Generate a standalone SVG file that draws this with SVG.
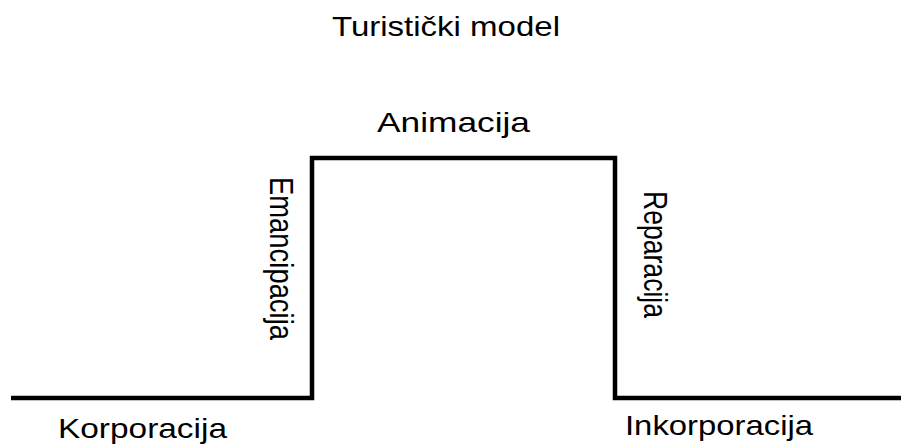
<svg xmlns="http://www.w3.org/2000/svg" width="901" height="445" viewBox="0 0 901 445">
<style>
text{font-family:"Liberation Sans",Arial,Helvetica,sans-serif;font-size:28px;fill:#000}
.ln{fill:none;stroke:#000;stroke-width:4.5;stroke-linejoin:miter;stroke-linecap:butt}
</style>
<rect width="901" height="445" fill="#fff"/>
<g id="connectors">
<polyline class="ln" points="11,398 312,398 312,158 615,158 615,398 901,398"/>
</g>
<g id="title"><text x="332" y="36" textLength="228" lengthAdjust="spacingAndGlyphs">Turistički model</text></g>
<g id="animacija"><text x="377" y="132" textLength="153" lengthAdjust="spacingAndGlyphs">Animacija</text></g>
<g id="emancipacija"><text transform="translate(270,177) scale(1.18,1) rotate(90)" x="0" y="0" textLength="163" lengthAdjust="spacingAndGlyphs">Emancipacija</text></g>
<g id="reparacija"><text transform="translate(644,191) scale(1.18,1) rotate(90)" x="0" y="0" textLength="127" lengthAdjust="spacingAndGlyphs">Reparacija</text></g>
<g id="korporacija"><text x="58" y="438" textLength="169" lengthAdjust="spacingAndGlyphs">Korporacija</text></g>
<g id="inkorporacija"><text x="625" y="435" textLength="188" lengthAdjust="spacingAndGlyphs">Inkorporacija</text></g>
</svg>
